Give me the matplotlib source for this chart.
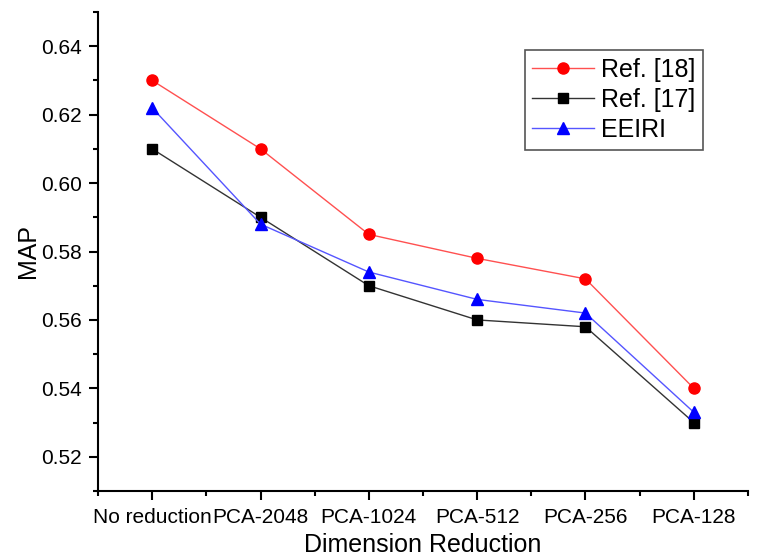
import matplotlib
matplotlib.use("Agg")
import matplotlib.pyplot as plt
from matplotlib.ticker import MultipleLocator

categories = ["No reduction", "PCA-2048", "PCA-1024", "PCA-512", "PCA-256", "PCA-128"]
ref18 = [0.630, 0.610, 0.585, 0.578, 0.572, 0.540]
ref17 = [0.610, 0.590, 0.570, 0.560, 0.558, 0.530]
eeiri = [0.622, 0.588, 0.574, 0.566, 0.562, 0.533]

plt.rcParams['font.family'] = ['Liberation Sans', 'DejaVu Sans']

fig = plt.figure(figsize=(7.69, 5.58), dpi=100)
ax = fig.add_axes([98/769, 1 - 491/558, 650/769, 479/558])

x = list(range(len(categories)))
ax.plot(x, ref18, '-o', color='#ff5050', mfc='red', mec='red', ms=8, lw=1, label='Ref. [18]')
ax.plot(x, ref17, '-s', color='#333333', mfc='black', mec='black', ms=7, lw=1, label='Ref. [17]')
ax.plot(x, eeiri, '-^', color='#5555ff', mfc='blue', mec='blue', ms=9, lw=1, label='EEIRI')

ax.set_xlim(-0.5, 5.5)
ax.set_ylim(0.51, 0.65)
ax.set_xticks(x)
ax.set_xticklabels(categories)
ax.xaxis.set_minor_locator(MultipleLocator(1.0, offset=0.5))
ax.yaxis.set_major_locator(MultipleLocator(0.02))
ax.yaxis.set_minor_locator(MultipleLocator(0.01))
ax.yaxis.set_major_formatter(plt.FormatStrFormatter('%.2f'))

for s in ['top', 'right']:
    ax.spines[s].set_visible(False)
for s in ['left', 'bottom']:
    ax.spines[s].set_linewidth(1.5)
ax.tick_params(which='major', direction='out', length=6.5, width=1.5, labelsize=15)
ax.tick_params(which='minor', direction='out', length=3.5, width=1.5)
ax.tick_params(axis='x', which='major', pad=6)
ax.tick_params(axis='y', which='major', pad=5)

ax.set_xlabel('Dimension Reduction', fontsize=18, labelpad=4)
ax.set_ylabel('MAP', fontsize=18, labelpad=1)

leg = ax.legend(loc='upper right', fontsize=18, fancybox=False, edgecolor='#555555', framealpha=1,
                handlelength=2.45, borderpad=0.3, labelspacing=0.25, handletextpad=0.3,
                borderaxespad=0)
leg.get_frame().set_linewidth(1.2)
leg.set_bbox_to_anchor((703/769, 1 - 50/558), transform=fig.transFigure)

fig.savefig('out.png', dpi=100)
